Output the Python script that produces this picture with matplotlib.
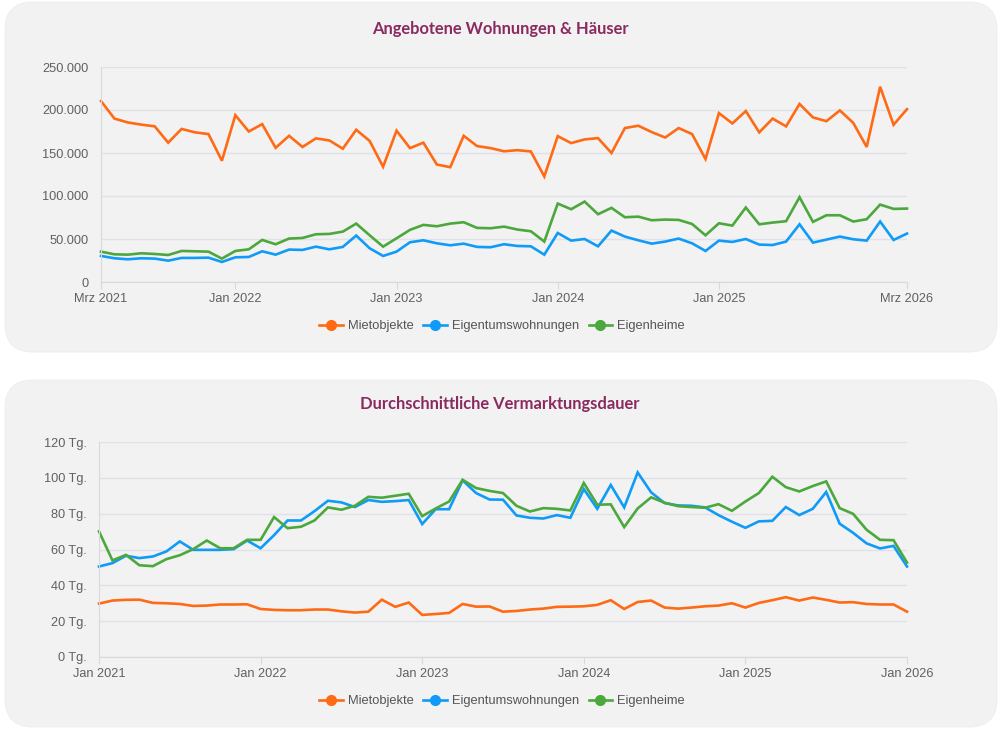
import numpy as np
import matplotlib
matplotlib.use("Agg")
import matplotlib.pyplot as plt
from matplotlib.patches import FancyBboxPatch
from matplotlib.ticker import FuncFormatter

# Angebotene Wohnungen & Häuser (Mrz 2021 - Mrz 2026, monatlich)
miet_angebot = [210.4, 190, 185.5, 183, 181, 162, 178, 174, 172, 141,
                194, 175, 183.6, 156, 170, 157, 167, 164.6, 155, 177,
                164, 134, 176, 155.7, 162, 136.6, 133.5, 170, 158, 155.7,
                152, 153.3, 151.8, 122.7, 169.6, 161.5, 165.8, 167.3, 150, 179,
                181.7, 174.3, 168, 179, 172, 143, 196.4, 184.4, 198.8, 174,
                190, 181, 207, 191.4, 187, 199.5, 185, 157, 227, 182.8, 201]
etw_angebot = [30.3, 27.6, 26.4, 27.6, 27.2, 24.8, 28, 28, 28.3, 23.3,
               28.7, 29.1, 35.7, 31.8, 37.7, 37.3, 41.1, 38, 40.8, 54,
               39.2, 30.3, 35.3, 46.2, 48.5, 45, 42.7, 44.6, 40.8, 40.4,
               43.9, 41.9, 41.5, 31.8, 57, 48.1, 50, 41.5, 59.8, 52.8,
               48.5, 44.6, 47, 50.5, 45, 36.1, 48.1, 46.6, 50, 43.5,
               43, 47, 67.1, 45.8, 49.3, 52.8, 49.7, 48.1, 70.3, 48.9, 56.3]
haus_angebot = [35.3, 32.2, 31.8, 33.4, 32.6, 31.4, 36.1, 35.7, 35.3, 27.2,
                36.1, 38, 48.9, 43.9, 50.5, 51.2, 55.5, 55.9, 58.6, 67.9,
                54.3, 41.1, 50.8, 60.6, 66.4, 64.8, 67.9, 69.5, 62.9, 62.5,
                64.4, 61, 59, 47, 91.2, 84.6, 93.5, 78.8, 86.2, 75.3,
                76, 71.8, 72.6, 72.2, 67.5, 54.3, 68.3, 65.6, 86.6, 67.1,
                69.1, 70.7, 98.6, 69.9, 77.6, 77.6, 70.3, 73, 90, 85, 85.4]

# Durchschnittliche Vermarktungsdauer in Tagen (Jan 2021 - Jan 2026)
miet_dauer = [29.8, 31.5, 31.9, 32, 30.2, 30, 29.6, 28.5, 28.7, 29.3,
              29.3, 29.4, 26.8, 26.3, 26.1, 26.1, 26.5, 26.5, 25.5, 24.8,
              25.3, 32, 28, 30.4, 23.5, 24, 24.6, 29.6, 28.1, 28.2,
              25.3, 25.7, 26.5, 27, 28, 28.1, 28.3, 29.1, 31.7, 26.8,
              30.7, 31.5, 27.6, 27, 27.6, 28.3, 28.7, 30, 27.6, 30.2,
              31.7, 33.4, 31.5, 33.2, 31.9, 30.4, 30.6, 29.6, 29.3, 29.3, 25.3]
etw_dauer = [50.5, 52.4, 56.5, 55.2, 56.1, 58.9, 64.5, 59.8, 59.8, 59.8,
             60.2, 65, 60.7, 68, 76.2, 76.2, 81.4, 87.2, 86.3, 83.7,
             87.6, 86.6, 87, 87.6, 74.2, 82.5, 82.5, 98.6, 91.5, 87.9,
             87.8, 79, 77.7, 77.3, 79.2, 77.7, 93.7, 82.7, 96, 83.5,
             103, 91.9, 85.9, 84.6, 84.4, 83.5, 79.2, 75.5, 72.1, 75.7,
             76, 83.7, 79.2, 82.7, 92.1, 74.4, 69.3, 63.4, 60.6, 62, 50.5]
haus_dauer = [70.1, 53.9, 57, 51.2, 50.7, 54.6, 56.8, 60.2, 65, 60.7,
              60.7, 65.4, 65.4, 78.1, 71.9, 72.7, 76.2, 83.5, 82.2, 84.4,
              89.4, 88.9, 90, 91.1, 78.6, 82.9, 86.8, 98.9, 94.3, 92.7,
              91.5, 84.4, 81.2, 83.1, 82.7, 81.8, 97.1, 85, 85.2, 72.5,
              82.9, 89.1, 86.1, 84.2, 83.7, 83.3, 85.3, 81.6, 86.8, 91.5,
              100.6, 94.8, 92.4, 95.4, 98, 83.1, 79.9, 71, 65.4, 65.2, 52.7]

ticks_top = [0, 10, 22, 34, 46, 60]
labels_top = ["Mrz 2021", "Jan 2022", "Jan 2023", "Jan 2024", "Jan 2025", "Mrz 2026"]
ticks_bottom = [0, 12, 24, 36, 48, 60]
labels_bottom = ["Jan 2021", "Jan 2022", "Jan 2023", "Jan 2024", "Jan 2025", "Jan 2026"]
series_names = ["Mietobjekte", "Eigentumswohnungen", "Eigenheime"]
colors = ["#ff6a14", "#0f9bf7", "#4ba83c"]

plt.rcParams['font.family'] = ['Liberation Sans', 'DejaVu Sans']

fig = plt.figure(figsize=(10, 7.3), dpi=100)
fig.patch.set_facecolor("white")

# rounded grey panels behind each chart
for y0, y1 in [(2, 352), (380, 727)]:
    box = FancyBboxPatch((5 / 1000, 1 - y1 / 730), 992 / 1000, (y1 - y0) / 730,
                         boxstyle="round,pad=0,rounding_size=0.028",
                         mutation_aspect=1000 / 730,
                         transform=fig.transFigure, facecolor="#f2f2f2",
                         edgecolor="#ededed", linewidth=0.6, zorder=-5)
    fig.patches.append(box)

ax1 = fig.add_axes([0.101, 1 - 282 / 730, 0.806, 215 / 730])
ax2 = fig.add_axes([0.099, 1 - 657 / 730, 0.808, 215 / 730])
ax1.set_zorder(2)
ax2.set_zorder(2)


def style_axis(ax, ticks, labels):
    ax.set_facecolor("none")
    for s in ["top", "right"]:
        ax.spines[s].set_visible(False)
    ax.spines["left"].set_color("#d8d9de")
    ax.spines["bottom"].set_color("#d8d9de")
    ax.grid(axis="y", color="#e1e2e8", linewidth=1)
    ax.set_axisbelow(True)
    ax.set_xticks(ticks)
    ax.set_xticklabels(labels)
    ax.set_xlim(0, 60)
    ax.tick_params(axis="x", length=5, color="#d8d9de", labelsize=9.2,
                   labelcolor="#606060", pad=3)
    ax.tick_params(axis="y", length=0, labelsize=9.2, labelcolor="#606060", pad=9)


x = np.arange(len(miet_angebot))
for vals, c, n in zip([miet_angebot, etw_angebot, haus_angebot], colors, series_names):
    ax1.plot(x, np.array(vals) * 1000, color=c, linewidth=1.9, label=n,
             solid_joinstyle="miter", clip_on=False)
style_axis(ax1, ticks_top, labels_top)
ax1.set_ylim(0, 250000)
ax1.set_yticks(np.arange(0, 250001, 50000))
ax1.yaxis.set_major_formatter(FuncFormatter(lambda v, p: f"{int(v):,}".replace(",", ".")))

x2 = np.arange(len(miet_dauer))
for vals, c, n in zip([miet_dauer, etw_dauer, haus_dauer], colors, series_names):
    ax2.plot(x2, vals, color=c, linewidth=1.9, label=n,
             solid_joinstyle="miter", clip_on=False)
style_axis(ax2, ticks_bottom, labels_bottom)
ax2.set_ylim(0, 120)
ax2.set_yticks(np.arange(0, 121, 20))
ax2.yaxis.set_major_formatter(FuncFormatter(lambda v, p: f"{int(v)} Tg."))

# legends with line + dot handles
for ax, ly in [(ax1, 1 - 326 / 730), (ax2, 1 - 701 / 730)]:
    handles = [plt.Line2D([], [], color=c, linewidth=1.9, marker="o", markersize=7)
               for c in colors]
    fig.legend(handles, series_names, loc="center", bbox_to_anchor=(0.502, ly),
               ncol=3, frameon=False, fontsize=9.3, handlelength=1.8,
               handletextpad=0.4, columnspacing=0.75, labelcolor="#555555")

fig.text(0.5, 1 - 29 / 730, "Angebotene Wohnungen & Häuser", ha="center", va="center",
         fontsize=11.9, fontweight="bold", color="#8a2a60", family=["Lato", "DejaVu Sans"])
fig.text(0.5, 1 - 404 / 730, "Durchschnittliche Vermarktungsdauer", ha="center", va="center",
         fontsize=11.9, fontweight="bold", color="#8a2a60", family=["Lato", "DejaVu Sans"])

fig.savefig("out.png", dpi=100)
